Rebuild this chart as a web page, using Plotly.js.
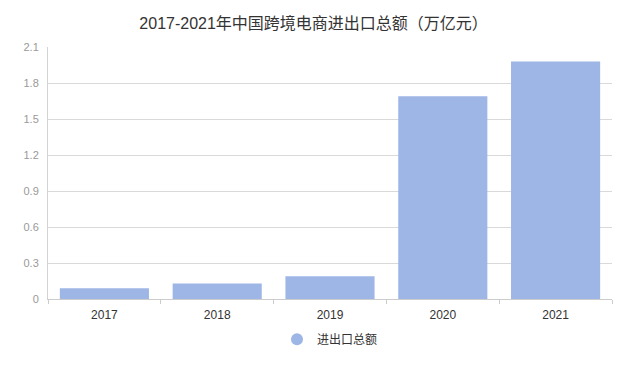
<!DOCTYPE html>
<html>
<head>
<meta charset="utf-8">
<script src="https://cdn.plot.ly/plotly-3.0.1.min.js"></script>
<style>html,body{margin:0;padding:0;background:#fff;}#chart{width:640px;height:366px;}</style>
</head>
<body>
<div id="chart"></div>
<script>
const years = ['2017', '2018', '2019', '2020', '2021'];
const totals = [0.09, 0.13, 0.19, 1.69, 1.98];
const seriesName = '进出口总额';
const titleText = '2017-2021年中国跨境电商进出口总额（万亿元）';
const barColor = '#9eb6e6';

const font = '"Liberation Sans", Arial, "Noto Sans CJK SC", sans-serif';

const traces = [
  {
    type: 'bar', x: years, y: totals, name: seriesName,
    marker: {color: barColor}, showlegend: false, hoverinfo: 'x+y'
  },
  {
    type: 'scatter', mode: 'markers', x: [null], y: [null], name: seriesName,
    marker: {color: barColor, size: 14, symbol: 'circle'}, showlegend: true
  }
];

const layout = {
  width: 640, height: 366,
  margin: {l: 48, r: 28, t: 47, b: 63},
  paper_bgcolor: '#fff', plot_bgcolor: '#fff',
  font: {family: font, color: '#333', size: 12},
  title: {text: titleText, x: 0.49, xanchor: 'center', y: 0.937, yanchor: 'middle',
          font: {family: font, size: 16, color: '#333'}},
  bargap: 0.21,
  xaxis: {
    type: 'category', showgrid: false, showline: true, linecolor: '#ccc', linewidth: 1,
    ticks: 'outside', tickson: 'boundaries', ticklen: 4, tickcolor: '#ccc',
    tickfont: {size: 12, color: '#333'}, ticklabelstandoff: 5, fixedrange: true
  },
  yaxis: {
    range: [0, 2.1], tick0: 0, dtick: 0.3, showgrid: true, gridcolor: '#d9d9d9',
    showline: true, linecolor: '#d4d4d4', linewidth: 1, zeroline: false,
    ticks: '', tickfont: {size: 11, color: '#999'}, ticklabelstandoff: 6, fixedrange: true
  },
  showlegend: true,
  legend: {orientation: 'h', x: 0.5, xanchor: 'center', y: -0.16, yanchor: 'middle',
           font: {size: 12, color: '#333'}, itemsizing: 'constant'}
};

Plotly.newPlot('chart', traces, layout, {displayModeBar: false, staticPlot: true});
</script>
</body>
</html>
